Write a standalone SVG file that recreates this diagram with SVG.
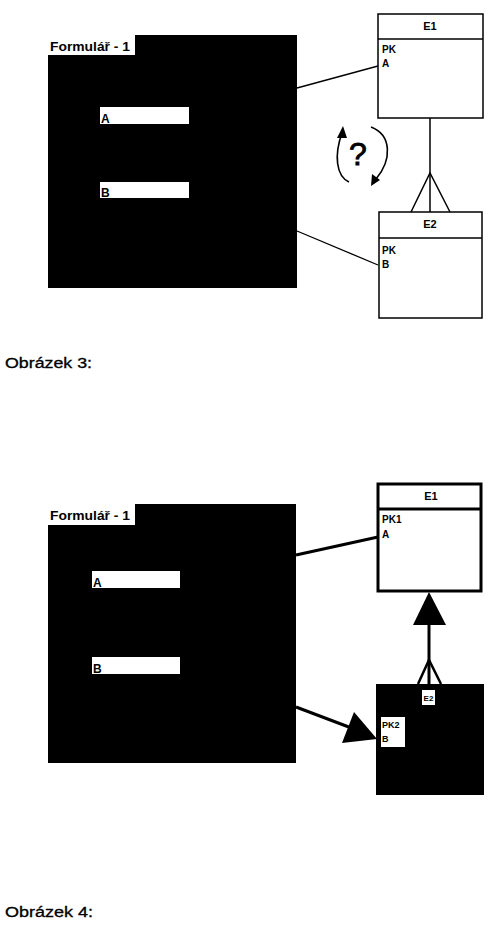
<svg xmlns="http://www.w3.org/2000/svg" width="495" height="935" viewBox="0 0 495 935">
<style>
.form{fill:#000}
.wbox{fill:#fff}
.t{font-family:"Liberation Sans",Arial,sans-serif;fill:#000}
.b{font-weight:bold}
.cap{font-size:14px;stroke:#000;stroke-width:0.3}
.ent{fill:#fff;stroke:#000}
.ln{stroke:#000;fill:none}
</style>
<rect width="495" height="935" fill="#fff"/>

<!-- Figure 3 -->
<g id="form1">
<rect class="form" x="48" y="35" width="249" height="253"/>
<rect class="wbox" x="48" y="35" width="87" height="20"/>
<text class="t b" x="50" y="51" font-size="12" textLength="80" lengthAdjust="spacingAndGlyphs">Formulář - 1</text>
<rect class="wbox" x="100" y="107" width="89" height="17"/>
<text class="t b" x="101" y="123" font-size="12">A</text>
<rect class="wbox" x="100" y="182" width="89" height="16"/>
<text class="t b" x="101" y="197" font-size="12">B</text>
</g>
<g id="e1a">
<rect class="ent" x="378" y="14" width="105" height="104" stroke-width="1.5"/>
<line class="ln" x1="378" y1="39" x2="483" y2="39" stroke-width="1.5"/>
<text class="t b" x="430" y="30" font-size="11" text-anchor="middle">E1</text>
<text class="t b" x="382" y="53" font-size="10">PK</text>
<text class="t b" x="382" y="67" font-size="10">A</text>
</g>
<g id="e2a">
<rect class="ent" x="379" y="212" width="103" height="106" stroke-width="1.5"/>
<line class="ln" x1="379" y1="238" x2="482" y2="238" stroke-width="1.5"/>
<text class="t b" x="430" y="228" font-size="11" text-anchor="middle">E2</text>
<text class="t b" x="382" y="254" font-size="10">PK</text>
<text class="t b" x="382" y="268" font-size="10">B</text>
</g>
<g id="question">
<text class="t" x="358" y="165" font-size="32" text-anchor="middle" stroke="#000" stroke-width="0.8">?</text>
</g>
<g id="connectors1">
<line class="ln" x1="297" y1="88" x2="378" y2="66" stroke-width="1.3"/>
<line class="ln" x1="297" y1="231" x2="378" y2="265" stroke-width="1.3"/>
<line class="ln" x1="430" y1="118" x2="430" y2="212" stroke-width="1.5"/>
<polyline class="ln" points="411,212 430,173 450,212" stroke-width="1.5"/>
<path class="ln" d="M349,182 C336,176 334,155 342,133" stroke-width="1.6"/>
<path d="M343,126 L337,138 L347,138 Z" fill="#000"/>
<path class="ln" d="M371,127 C392,135 392,160 376,179" stroke-width="1.6"/>
<path d="M371,186 L372,174 L380,180 Z" fill="#000"/>
</g>
<text class="t cap" x="5" y="368" textLength="87" lengthAdjust="spacingAndGlyphs">Obrázek 3:</text>

<!-- Figure 4 -->
<g id="form2">
<rect class="form" x="48" y="504" width="248" height="259"/>
<rect class="wbox" x="48" y="504" width="87" height="21"/>
<text class="t b" x="50" y="520" font-size="12" textLength="80" lengthAdjust="spacingAndGlyphs">Formulář - 1</text>
<rect class="wbox" x="92" y="571" width="88" height="17"/>
<text class="t b" x="93" y="587" font-size="12">A</text>
<rect class="wbox" x="92" y="657" width="88" height="17"/>
<text class="t b" x="93" y="673" font-size="12">B</text>
</g>
<g id="e1b">
<rect class="ent" x="378" y="484" width="103" height="107" stroke-width="3"/>
<line class="ln" x1="378" y1="509" x2="481" y2="509" stroke-width="3"/>
<text class="t b" x="431" y="500" font-size="11" text-anchor="middle">E1</text>
<text class="t b" x="382" y="523" font-size="10">PK1</text>
<text class="t b" x="382" y="538" font-size="10">A</text>
</g>
<g id="e2b">
<rect x="376" y="684" width="108" height="111" fill="#000"/>
<rect class="wbox" x="422" y="690" width="13" height="15"/>
<text class="t b" x="428.5" y="701" font-size="8" text-anchor="middle">E2</text>
<rect class="wbox" x="381" y="717" width="24" height="30"/>
<text class="t b" x="382" y="728" font-size="9">PK2</text>
<text class="t b" x="382" y="742" font-size="9">B</text>
</g>
<g id="connectors2">
<line class="ln" x1="296" y1="555" x2="378" y2="537" stroke-width="3"/>
<line class="ln" x1="296" y1="707" x2="362" y2="732" stroke-width="3"/>
<path d="M354,712 L342,743 L377,739 Z" fill="#000"/>
<line class="ln" x1="429" y1="620" x2="429" y2="684" stroke-width="3"/>
<path d="M429,592 L413,625 L446,625 Z" fill="#000"/>
<polyline class="ln" points="418,684 429,660 441,684" stroke-width="2.5"/>
</g>
<text class="t cap" x="5" y="917" textLength="88" lengthAdjust="spacingAndGlyphs">Obrázek 4:</text>
</svg>
